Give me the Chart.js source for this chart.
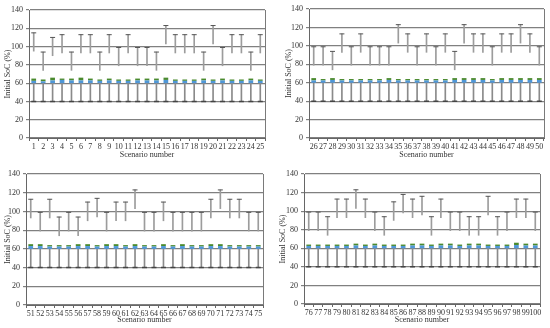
<!DOCTYPE html>
<html>
<head>
<meta charset="utf-8">
<script src="https://cdn.jsdelivr.net/npm/chart.js@4.4.1/dist/chart.umd.min.js"></script>
<style>
  html, body { margin: 0; padding: 0; background: #fff; width: 550px; height: 328px; overflow: hidden; }
  .panel { position: absolute; }
</style>
</head>
<body>
<canvas class="panel" id="c1" width="272" height="163" style="left:0;top:0"></canvas>
<canvas class="panel" id="c2" width="269" height="163" style="left:281px;top:0"></canvas>
<canvas class="panel" id="c3" width="270" height="164" style="left:0;top:164px"></canvas>
<canvas class="panel" id="c4" width="275" height="164" style="left:275px;top:164px"></canvas>
<script>
// scenario labels
const scen1 = ['1','2','3','4','5','6','7','8','9','10','11','12','13','14','15','16','17','18','19','20','21','22','23','24','25'];
const scen2 = ['26','27','28','29','30','31','32','33','34','35','36','37','38','39','40','41','42','43','44','45','46','47','48','49','50'];
const scen3 = ['51','52','53','54','55','56','57','58','59','60','61','62','63','64','65','66','67','68','69','70','71','72','73','74','75'];
const scen4 = ['76','77','78','79','80','81','82','83','84','85','86','87','88','89','90','91','92','93','94','95','96','97','98','99','100'];

const yTicks = [0, 20, 40, 60, 80, 100, 120, 140];

// bar base and lower error bar end (same for every scenario)
const barBase = 60;
const lowerCap = 40;

// top of blue segment, top of green segment
const blue1 = [62.5,62,63,63.5,63,63,63,62.5,63,62.5,62.5,63,63,63,63.5,62.5,62.5,62.5,63,62.5,63,62.5,62.5,63,62.5];
const green1 = [65,64,66,65,65,66,65,64,65,64,64,65,65,65,66,64,64,64,65,64,65,64,64,65,64];
const blue2 = [62.5,62.5,63,62.5,62.5,62.5,62.5,62.5,63,62.5,62.5,62.5,62.5,62.5,62.5,63,63,63,63,62.5,63,63,63,63,63];
const green2 = [65,64,65,64,64,64,64,64,65,64,64,64,64,64,64,65,65,65,65,64,65,65,65,65,65];
const blue3 = [63,63,62.5,62.5,62.5,63,63,62.5,63,63,62.5,63,62.5,62.5,63,62.5,63,62.5,62.5,63,63,62.5,62.5,62.5,62.5];
const green3 = [65,65,64,64,64,65,65,64,65,65,64,65,64,64,65,64,65,64,64,65,65,64,64,64,64];
const blue4 = [62.5,62.5,62.5,62.5,62.5,63,62.5,63,62.5,62.5,62.5,63,63,62.5,63,63,62.5,63,63,62.5,62.5,62.5,63.5,63,63];
const green4 = [64,64,64,64,64,65,64,65,64,64,64,65,65,64,65,65,64,65,65,64,64,64,66,65,65];

// upper error bar: lower end and capped upper end
const hiLow1 = [95,74,90,93,74,93,93,74,93,79,93,79,79,74,103,93,93,93,74,103,79,93,93,74,93];
const hiTop1 = [115,94,110,113,94,113,113,94,113,99,113,99,99,94,123,113,113,113,94,123,99,113,113,94,113];
const hiLow2 = [79,79,74,93,79,93,79,79,79,103,93,79,93,79,93,74,103,93,93,79,93,93,103,93,79];
const hiTop2 = [99,99,94,113,99,113,99,99,99,123,113,99,113,99,113,94,123,113,113,99,113,113,123,113,99];
const hiLow3 = [93,79,93,74,79,74,90,94,79,90,90,103,79,79,90,79,79,79,79,93,103,93,93,79,79];
const hiTop3 = [113,99,113,94,99,94,110,114,99,110,110,123,99,99,110,99,99,99,99,113,123,113,113,99,99];
const hiLow4 = [79,79,74,93,93,103,93,79,74,90,98,93,96,74,93,79,79,74,74,96,74,79,93,93,79];
const hiTop4 = [99,99,94,113,113,123,113,99,94,110,118,113,116,94,113,99,99,94,94,116,94,99,113,113,99];

const FONT = 'Liberation Serif';

const framePlugin = {
  id: 'frame',
  beforeDatasetsDraw(chart) {
    const a = chart.chartArea, ctx = chart.ctx;
    ctx.save();
    ctx.strokeStyle = '#7a7a7a';
    ctx.lineWidth = 1;
    ctx.beginPath();
    ctx.moveTo(Math.round(a.right) + 0.5, a.top);
    ctx.lineTo(Math.round(a.right) + 0.5, a.bottom);
    ctx.stroke();
    ctx.restore();
  }
};

function makeChart(id, labels, blue, green, hiLow, hiTop, lay) {
  const ctx = document.getElementById(id).getContext('2d');
  const range = (a, b) => a.map((v, i) => [v, b[i]]);
  return new Chart(ctx, {
    type: 'bar',
    data: {
      labels: labels,
      datasets: [
        { data: range(labels.map(() => lowerCap), labels.map(() => barBase)), backgroundColor: '#8a8a8a', barThickness: 1, grouped: false, order: 5 },
        { data: range(hiLow, hiTop), backgroundColor: '#9c9c9c', barThickness: 1, grouped: false, order: 5 },
        { data: range(labels.map(() => barBase), blue), backgroundColor: '#4f97d8', barPercentage: 0.5, categoryPercentage: 1, grouped: false, order: 3 },
        { data: range(blue, green), backgroundColor: '#4a8a2e', barPercentage: 0.5, categoryPercentage: 1, grouped: false, order: 3 },
        { type: 'line', data: hiTop, showLine: false, pointStyle: 'line', pointRadius: 2.5, borderColor: '#555', borderWidth: 1, order: 1 },
        { type: 'line', data: labels.map(() => lowerCap), showLine: false, pointStyle: 'line', pointRadius: 2.5, borderColor: '#444', borderWidth: 1.5, order: 1 }
      ]
    },
    options: {
      responsive: false,
      animation: false,
      layout: { padding: { top: lay.top, right: lay.right, left: 0, bottom: 0 } },
      plugins: { legend: { display: false }, tooltip: { enabled: false } },
      scales: {
        x: {
          afterFit: s => { s.height = lay.xh; },
          grid: { display: true, drawOnChartArea: false, drawTicks: true, tickLength: 3, color: '#666', offset: true },
          border: { display: true, color: '#666', width: 1 },
          ticks: { font: { family: FONT, size: 8 }, color: '#333', padding: 1, maxRotation: 0, autoSkip: false },
          title: { display: true, text: 'Scenario number', font: { family: FONT, size: 8 }, color: '#333', padding: { top: 2, bottom: 3 } }
        },
        y: {
          min: 0,
          max: 140,
          afterFit: s => { s.width = lay.yw; },
          afterBuildTicks: s => { s.ticks = yTicks.map(v => ({ value: v })); },
          grid: { color: '#808080', lineWidth: 1.2, tickLength: 3, drawTicks: true },
          border: { display: true, color: '#666', width: 1 },
          ticks: { font: { family: FONT, size: 8 }, color: '#333', padding: 3 },
          title: { display: true, text: 'Initial SoC (%)', font: { family: FONT, size: 8 }, color: '#333', padding: { top: 3, bottom: 2 } }
        }
      }
    },
    plugins: [framePlugin]
  });
}

makeChart('c1', scen1, blue1, green1, hiLow1, hiTop1, { top: 10, right: 7, xh: 25, yw: 29 });
makeChart('c2', scen2, blue2, green2, hiLow2, hiTop2, { top: 9, right: 6, xh: 25, yw: 28 });
makeChart('c3', scen3, blue3, green3, hiLow3, hiTop3, { top: 10, right: 7, xh: 23, yw: 26 });
makeChart('c4', scen4, blue4, green4, hiLow4, hiTop4, { top: 10, right: 10, xh: 24, yw: 29 });
</script>
</body>
</html>
